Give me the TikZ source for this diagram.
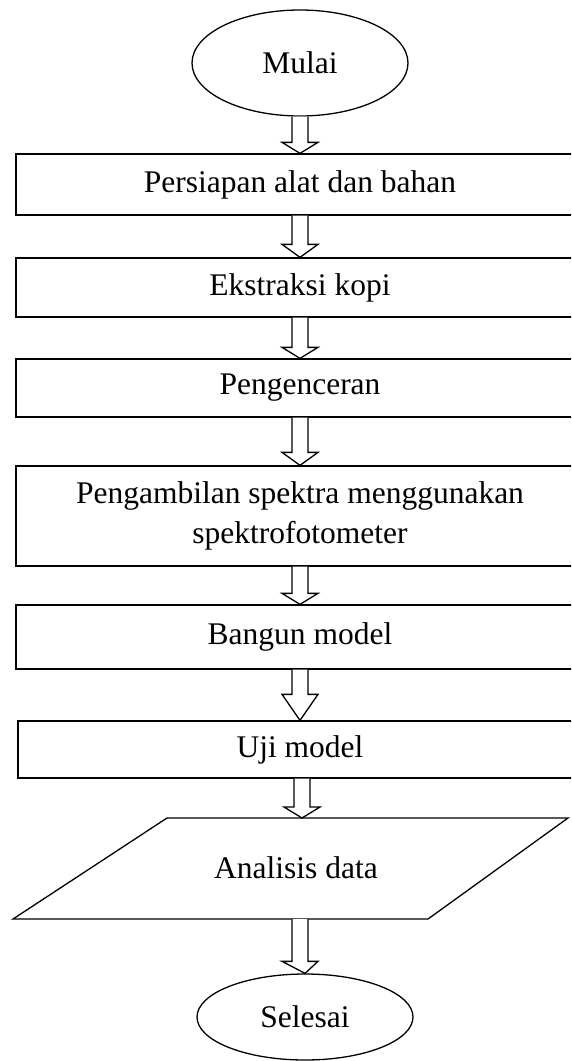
\documentclass[tikz,border=0pt]{standalone}
\usepackage{fontspec}
\setmainfont{Liberation Serif}
\usetikzlibrary{shapes.geometric,calc}
\tikzset{
  every node/.style={font=\fontsize{31.5}{40}\selectfont},
  procbox/.style={draw, line width=1.3pt, rectangle, inner sep=0pt, minimum width=568pt, align=center},
  termnode/.style={draw, line width=1.3pt, ellipse, inner sep=0pt, minimum width=216pt},
  blockarrow/.style={draw, line width=1.3pt, fill=white, line join=miter},
}
\newcommand{\blockarr}[3]{%
  \draw[blockarrow] let \p1=(#1), \p2=(#2) in
    (\x1-8pt,\y1) -- (\x1-8pt,\y2+#3) -- (\x1-18pt,\y2+#3) -- (\x2,\y2)
    -- (\x1+18pt,\y2+#3) -- (\x1+8pt,\y2+#3) -- (\x1+8pt,\y1);}
\begin{document}
\begin{tikzpicture}[x=1pt,y=-1pt]
\useasboundingbox (0,0) rectangle (571,1061);
\clip (0,0) rectangle (571,1061);
\fill[white] (0,0) rectangle (571,1061);

\node[termnode, minimum height=106pt] (start) at (300,63) {Mulai};
\node[procbox, minimum height=61pt] (b1) at (300,184.5) {Persiapan alat dan bahan};
\node[procbox, minimum height=59pt] (b2) at (300,287.5) {Ekstraksi kopi};
\node[procbox, minimum height=58pt] (b3) at (300,388) {Pengenceran};
\node[procbox, minimum height=100pt] (b4) at (300,516) {Pengambilan spektra menggunakan\\spektrofotometer};
\node[procbox, minimum height=64pt] (b5) at (300,637) {Bangun model};
\node[procbox, minimum height=57pt, minimum width=564pt] (b6) at (300,749.5) {Uji model};
\node[inner sep=0pt] (ana) at (296,868) {Analisis data};
\draw[line width=1.3pt, line join=miter] (167,818) -- (568,818) -- (428,919) -- (13,919) -- cycle;
\coordinate (anatop) at (302,818);
\coordinate (anabot) at (300,919);
\node[termnode, minimum height=86pt] (end) at (305,1017) {Selesai};

\blockarr{start.south}{b1.north}{11pt}
\blockarr{b1.south}{b2.north}{13pt}
\blockarr{b2.south}{b3.north}{11pt}
\blockarr{b3.south}{b4.north}{13pt}
\blockarr{b4.south}{b5.north}{11pt}
\blockarr{b5.south}{b6.north}{26pt}
\blockarr{b6.south -| anatop}{anatop}{11pt}
\blockarr{anabot}{end.north}{12pt}
\end{tikzpicture}
\end{document}
